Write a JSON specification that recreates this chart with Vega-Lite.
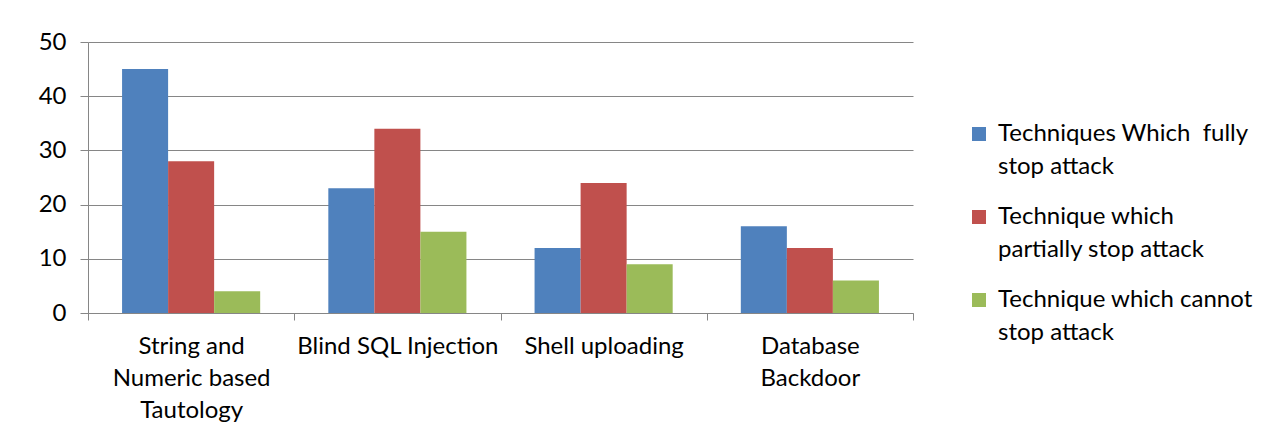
{
  "$schema": "https://vega.github.io/schema/vega-lite/v6.json",
  "width": 825,
  "height": 271,
  "autosize": {"type": "none"},
  "padding": {"left": 88, "top": 42, "right": 355, "bottom": 135},
  "background": "white",
  "config": {
    "view": {"stroke": null},
    "font": "Lato",
    "axis": {"labelFont": "Lato", "labelColor": "#000000"},
    "legend": {"labelFont": "Lato"},
    "style": {"guide-label": {"lineHeight": 33}}
  },
  "data": {
    "values": [
      {"category": "String and Numeric based Tautology", "series": "Techniques Which  fully stop attack", "value": 45},
      {"category": "String and Numeric based Tautology", "series": "Technique which partially stop attack", "value": 28},
      {"category": "String and Numeric based Tautology", "series": "Technique which cannot stop attack", "value": 4},
      {"category": "Blind SQL Injection", "series": "Techniques Which  fully stop attack", "value": 23},
      {"category": "Blind SQL Injection", "series": "Technique which partially stop attack", "value": 34},
      {"category": "Blind SQL Injection", "series": "Technique which cannot stop attack", "value": 15},
      {"category": "Shell uploading", "series": "Techniques Which  fully stop attack", "value": 12},
      {"category": "Shell uploading", "series": "Technique which partially stop attack", "value": 24},
      {"category": "Shell uploading", "series": "Technique which cannot stop attack", "value": 9},
      {"category": "Database Backdoor", "series": "Techniques Which  fully stop attack", "value": 16},
      {"category": "Database Backdoor", "series": "Technique which partially stop attack", "value": 12},
      {"category": "Database Backdoor", "series": "Technique which cannot stop attack", "value": 6}
    ]
  },
  "mark": {"type": "bar"},
  "encoding": {
    "x": {
      "field": "category",
      "type": "nominal",
      "sort": ["String and Numeric based Tautology", "Blind SQL Injection", "Shell uploading", "Database Backdoor"],
      "scale": {"paddingInner": 0, "paddingOuter": 0},
      "axis": {
        "title": null,
        "labelAngle": 0,
        "labelFontSize": 24,
        "labelPadding": 14,
        "labelLineHeight": 32,
        "labelBaseline": "top",
        "labelLimit": 300,
        "tickBand": "extent",
        "tickSize": 7,
        "tickColor": "#868686",
        "domainColor": "#868686",
        "labelExpr": "datum.label == 'String and Numeric based Tautology' ? ['String and', 'Numeric based', 'Tautology'] : datum.label == 'Database Backdoor' ? ['Database', 'Backdoor'] : datum.label"
      }
    },
    "xOffset": {
      "field": "series",
      "type": "nominal",
      "sort": ["Techniques Which  fully stop attack", "Technique which partially stop attack", "Technique which cannot stop attack"],
      "scale": {"paddingInner": 0, "paddingOuter": 0.74}
    },
    "y": {
      "field": "value",
      "type": "quantitative",
      "scale": {"domain": [0, 50]},
      "axis": {
        "title": null,
        "values": [0, 10, 20, 30, 40, 50],
        "labelFontSize": 24,
        "labelPadding": 14,
        "tickSize": 8,
        "tickColor": "#868686",
        "domainColor": "#868686",
        "gridColor": "#868686",
        "grid": true
      }
    },
    "color": {
      "field": "series",
      "type": "nominal",
      "sort": ["Techniques Which  fully stop attack", "Technique which partially stop attack", "Technique which cannot stop attack"],
      "scale": {"range": ["#4F81BD", "#C0504D", "#9BBB59"]},
      "legend": {
        "title": null,
        "orient": "none",
        "legendX": 879,
        "legendY": 80,
        "symbolType": "square",
        "symbolSize": 196,
        "symbolStrokeWidth": 0,
        "labelFontSize": 24,
        "labelLimit": 400,
        "labelOffset": 7,
        "rowPadding": 26,
        "encode": {"labels": {"update": {"lineHeight": {"value": 33}}}},
        "labelExpr": "datum.label == 'Techniques Which  fully stop attack' ? ['Techniques Which\u00a0 fully', 'stop attack'] : datum.label == 'Technique which partially stop attack' ? ['Technique which', 'partially stop attack'] : ['Technique which cannot', 'stop attack']"
      }
    }
  }
}
